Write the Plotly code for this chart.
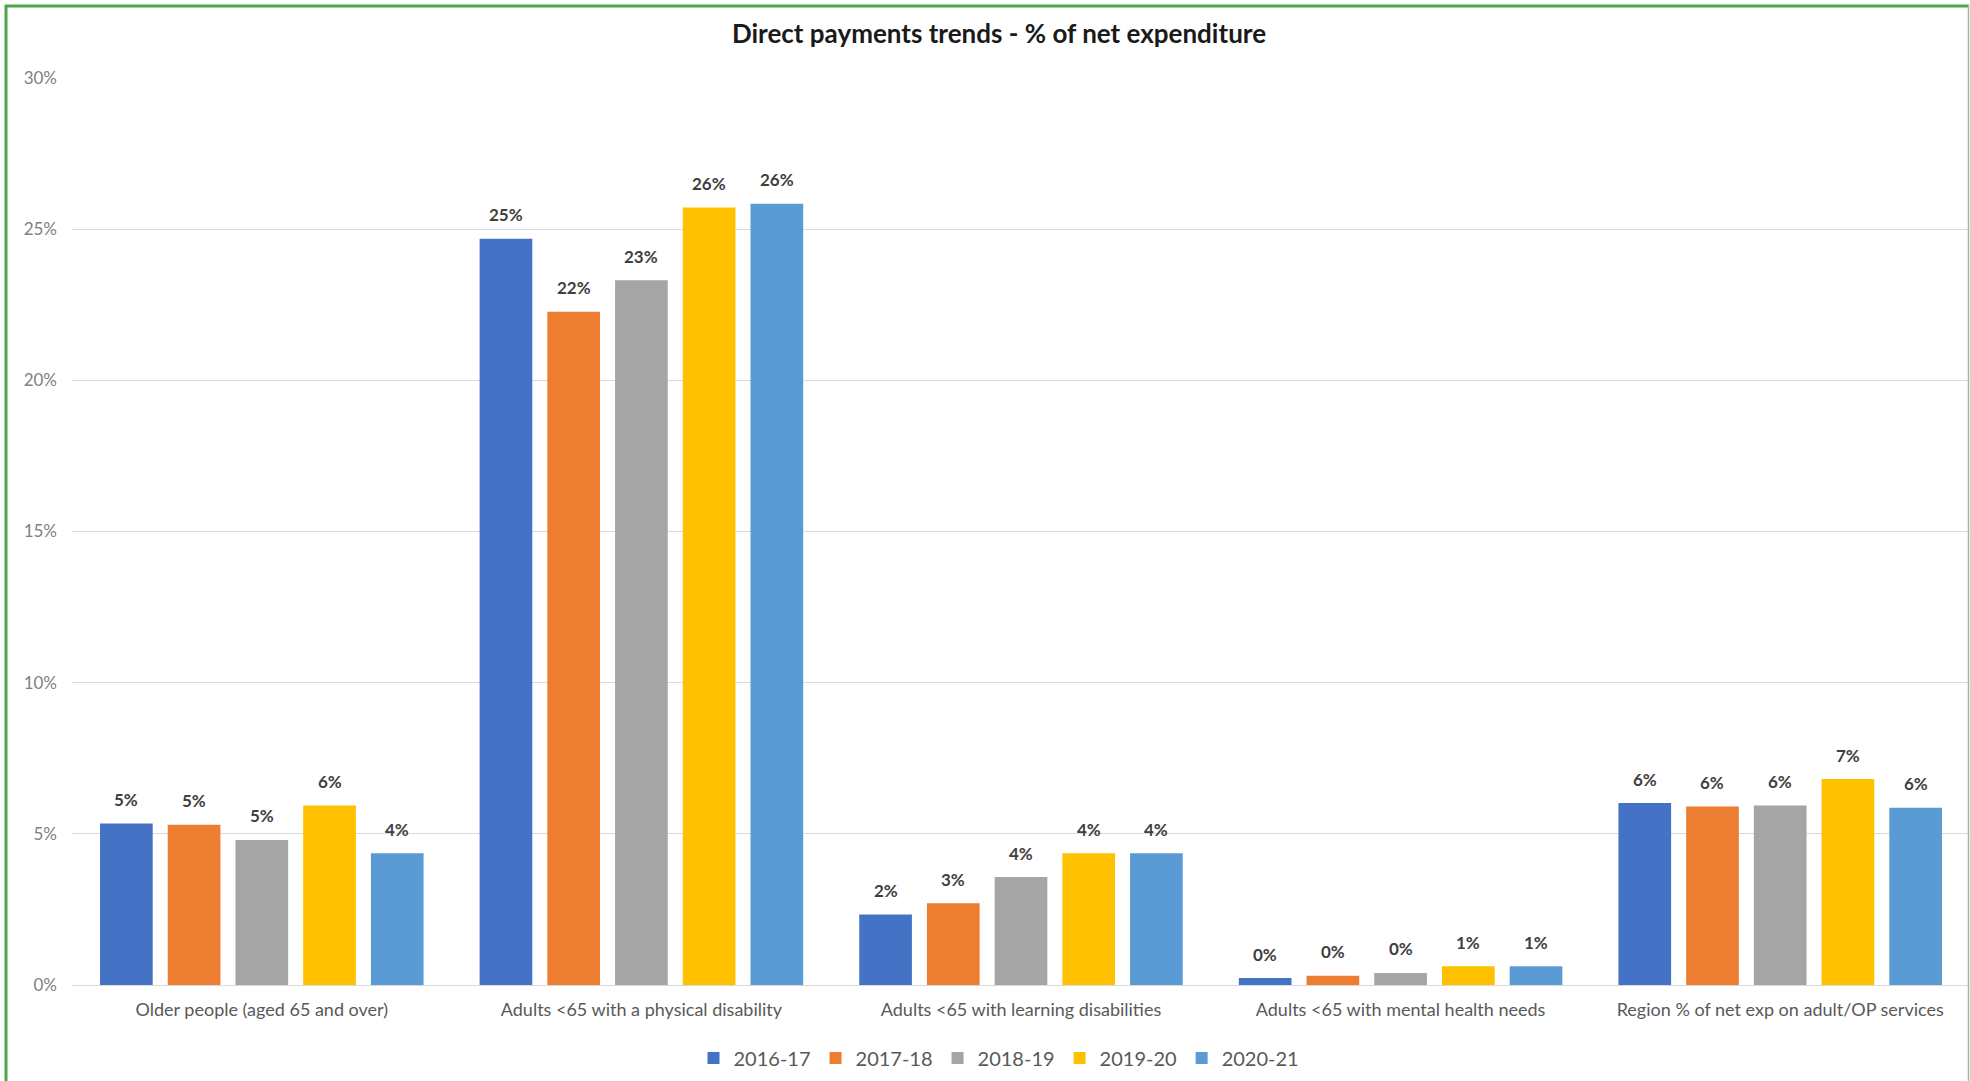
import plotly.graph_objects as go

categories = [
    "Older people (aged 65 and over)",
    "Adults <65 with a physical disability",
    "Adults <65 with learning disabilities",
    "Adults <65 with mental health needs",
    "Region % of net exp on adult/OP services",
]
years = ["2016-17", "2017-18", "2018-19", "2019-20", "2020-21"]
v_2016_17 = [5.34, 24.68, 2.33, 0.23, 6.02]
v_2017_18 = [5.30, 22.27, 2.70, 0.31, 5.90]
v_2018_19 = [4.80, 23.31, 3.57, 0.40, 5.94]
v_2019_20 = [5.94, 25.72, 4.36, 0.62, 6.81]
v_2020_21 = [4.36, 25.84, 4.36, 0.62, 5.86]
series = [v_2016_17, v_2017_18, v_2018_19, v_2019_20, v_2020_21]
colors = ["#4472C4", "#ED7D31", "#A5A5A5", "#FFC000", "#5B9BD5"]

W, H = 1970, 1081
ML, MR, MT, MB = 72, 0, 78, 96
FONT = "Lato, 'Open Sans', sans-serif"
BARGAP = 0.108
BARGROUPGAP = 0.222

fig = go.Figure()
for name, vals, col in zip(years, series, colors):
    fig.add_trace(go.Bar(
        x=categories, y=vals, name=name, marker_color=col,
        marker_line_width=0,
    ))

# data labels placed above each bar via the axis scales
n = len(series)
slot = (1 - BARGAP) / n
annotations = []
for i, vals in enumerate(series):
    for k, v in enumerate(vals):
        annotations.append(dict(
            x=k - (1 - BARGAP) / 2 + slot * (i + 0.5), y=v,
            xref="x", yref="y", text=f"{round(v)}%", showarrow=False,
            yanchor="middle", yshift=24,
            font=dict(family=FONT, size=17, color="#404040", weight="bold"),
        ))

pw = W - ML - MR
ph = H - MT - MB

def px_x(px):
    return (px - ML) / pw

def px_y(py):
    return (H - MB - py) / ph

fig.update_layout(
    width=W, height=H,
    margin=dict(l=ML, r=MR, t=MT, b=MB, autoexpand=False),
    paper_bgcolor="white", plot_bgcolor="white",
    barmode="group", bargap=BARGAP, bargroupgap=BARGROUPGAP,
    title=dict(text="<b>Direct payments trends - % of net expenditure</b>",
               x=999 / W, xanchor="center", y=1 - 34 / H, yanchor="middle",
               font=dict(family=FONT, size=26, color="#1a1a1a")),
    font=dict(family=FONT, color="#595959"),
    legend=dict(orientation="h", x=px_x(999), xanchor="center",
                y=px_y(1058), yanchor="middle",
                font=dict(family=FONT, size=20, color="#595959"),
                itemwidth=30, traceorder="normal"),
    xaxis=dict(showgrid=False, showline=True, linecolor="#D9D9D9", linewidth=1,
               ticks="", ticklabelstandoff=8,
               tickfont=dict(family=FONT, size=18, color="#595959")),
    yaxis=dict(range=[0, 30], dtick=5, ticksuffix="%", showgrid=True,
               gridcolor="#D9D9D9", gridwidth=1, zeroline=False,
               showline=False, ticks="", ticklabelstandoff=14,
               tickfont=dict(family=FONT, size=17, color="#808080")),
    annotations=annotations,
    shapes=[
        dict(type="line", xref="paper", yref="paper",
             x0=px_x(6), x1=px_x(6), y0=px_y(5), y1=px_y(1081),
             line=dict(color="#4CA64C", width=3)),
        dict(type="line", xref="paper", yref="paper",
             x0=px_x(5), x1=px_x(1969), y0=px_y(6), y1=px_y(6),
             line=dict(color="#4CA64C", width=3)),
        dict(type="line", xref="paper", yref="paper",
             x0=px_x(1968.5), x1=px_x(1968.5), y0=px_y(5), y1=px_y(1081),
             line=dict(color="#8FC48F", width=1.5)),
    ],
)

fig.write_html("out.html", config={"displayModeBar": False},
               post_script="document.body.style.margin='0px';document.body.style.overflow='hidden';")
